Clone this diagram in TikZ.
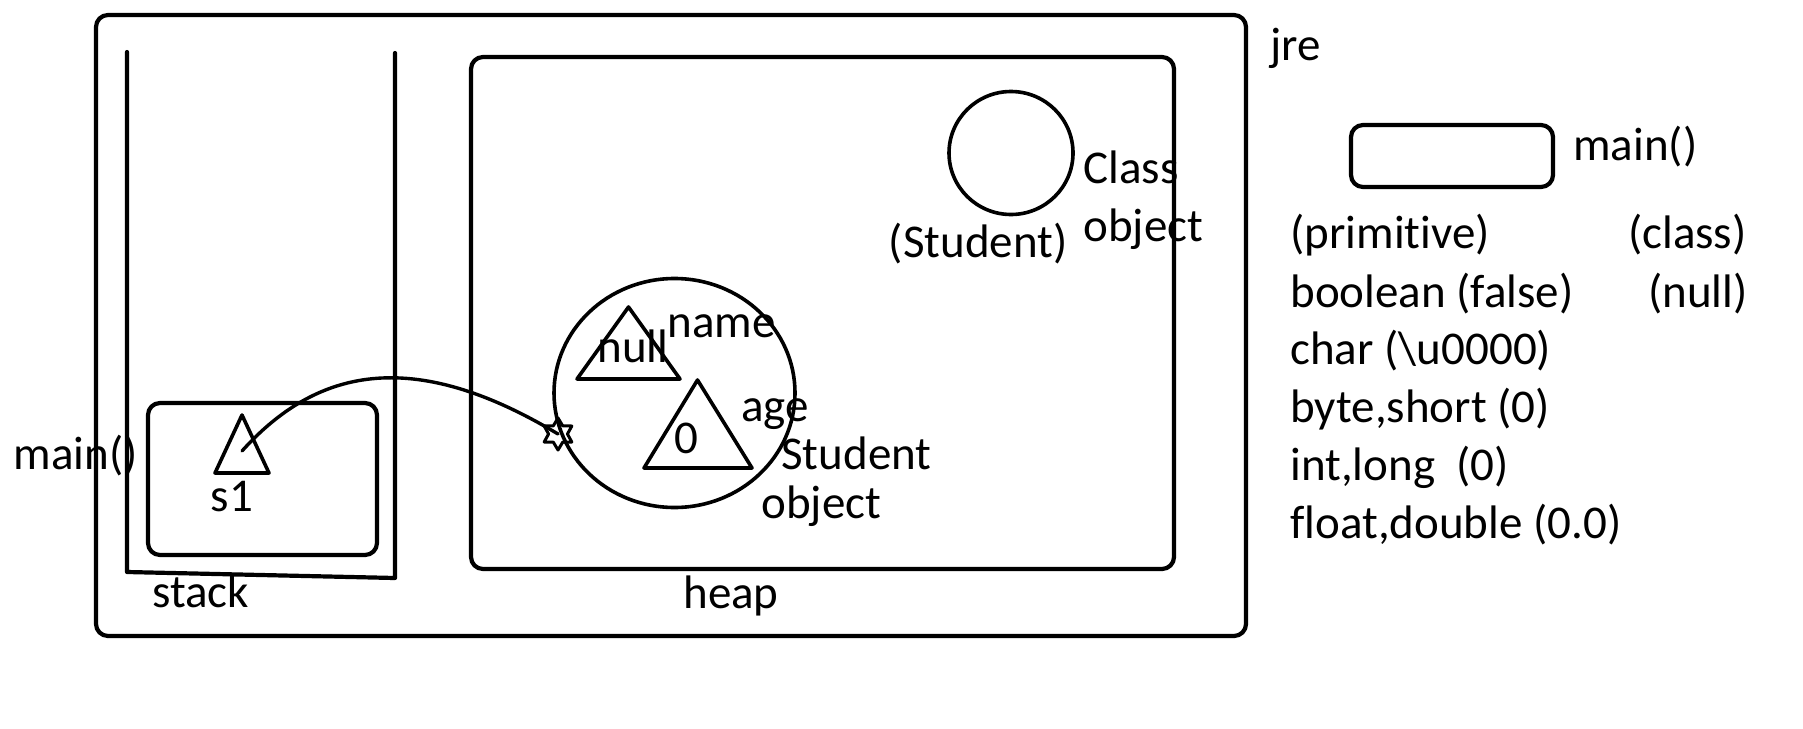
\documentclass[tikz,border=0pt]{standalone}
\usepackage{fontspec}
\setmainfont{Carlito}[Ligatures=NoCommon]
\usetikzlibrary{shapes.geometric}
\tikzset{
  box/.style={draw, line width=2.1pt, rounded corners=6pt},
  thin/.style={draw, line width=1.8pt},
  lbl/.style={inner sep=0pt, anchor=base west, font=\fontsize{23.5}{28}\selectfont},
  lblc/.style={lbl, anchor=base},
  lble/.style={lbl, anchor=base east},
}
\begin{document}
\begin{tikzpicture}[x=0.5pt,y=-0.5pt, line join=round, line cap=round]
\useasboundingbox (0,0) rectangle (1803,728);
% jre
\draw[box] (96,15) rectangle (1246,636);
\node[lbl] (jre) at (1270,60) {jre};
% stack
\draw[line width=2.1pt] (127,52) -- (127,572) -- (395,578) -- (395,53);
\node[lbl] (stack) at (152,607) {stack};
\draw[box] (148,403) rectangle (377,555);
\node[lble] (mainL) at (138,469) {main()};
\draw[thin] (242,415) -- (215,473) -- (269,473) -- cycle;
\node[lblc] (s1) at (232,511) {s1};
\coordinate (s1ref) at (242,451);
% heap
\draw[box] (471,57) rectangle (1174,569);
\node[lblc] (heap) at (731,608) {heap};
% class object
\draw[thin] (1011,153) ellipse [x radius=62, y radius=61.5];
\node[lbl] (cls) at (1083,183) {Class};
\node[lbl] (clsobj) at (1083,241) {object};
\node[lble] (stud) at (1068,257) {(Student)};
% student object
\draw[thin] (674.5,393) ellipse [x radius=120.5, y radius=114.5];
\draw[thin] (628.5,307) -- (577,379) -- (680,379) -- cycle;
\node[lbl] (nullv) at (597,362) {null};
\node[lbl] (name) at (667,337) {name};
\draw[thin] (697.5,380) -- (644,468) -- (752,468) -- cycle;
\node[lbl] (zero) at (674,453) {0};
\node[lbl] (age) at (741,421) {age};
\node[lbl] (sobj1) at (781,469) {Student};
\node[lbl] (sobj2) at (761,518) {object};
\node[star, star points=6, star point ratio=1.7, draw, line width=1.5pt, minimum size=16pt, inner sep=0pt] (ptr) at (558,434) {};
\draw[line width=1.7pt] (s1ref) .. controls (315,370) and (410,345) .. (ptr.center);
% legend
\draw[box] (1351,125) rectangle (1553,187);
\node[lbl] (mainR) at (1573,160) {main()};
\node[lbl] (prim) at (1290,248) {(primitive)};
\node[lble] (clsr) at (1747,248) {(class)};
\node[lbl] (bool) at (1290,307) {boolean (false)};
\node[lble] (nullr) at (1748,307) {(null)};
\node[lbl] (chr) at (1290,364) {char (\textbackslash u0000)};
\node[lbl] (byt) at (1290,422) {byte,short (0)};
\node[lbl] (intl) at (1290,480) {int,long\ \ (0)};
\node[lbl] (flt) at (1290,538) {float,double (0.0)};
\end{tikzpicture}
\end{document}
